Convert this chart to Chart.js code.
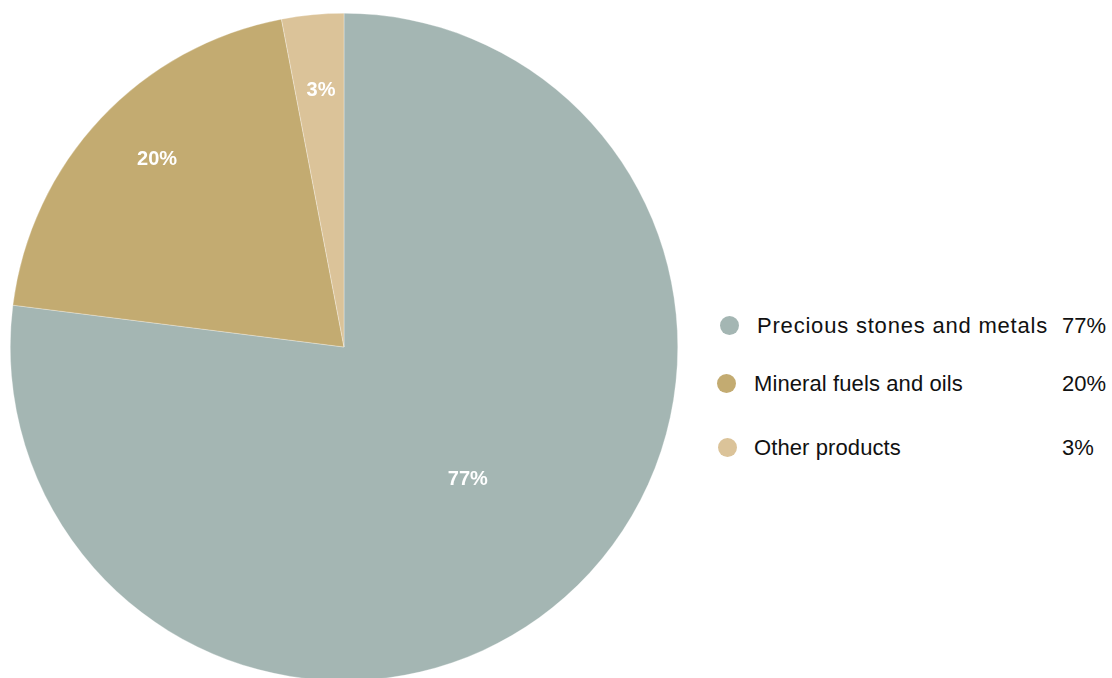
<!DOCTYPE html>
<html>
<head>
<meta charset="utf-8">
<script src="https://cdn.jsdelivr.net/npm/chart.js@4.4.1/dist/chart.umd.min.js"></script>
<style>
  html, body { margin: 0; padding: 0; background: #fff; overflow: hidden; }
  body { width: 1112px; height: 678px; position: relative; font-family: "Liberation Sans", Arial, Helvetica, sans-serif; }
  #pieWrap { position: absolute; left: 10px; top: 13px; width: 668px; height: 668px; }
  #legend { position: absolute; left: 716px; top: 0; width: 396px; }
  .row { position: absolute; left: 0; height: 24px; width: 396px; color: #111; font-size: 22px; line-height: 24px; }
  .dot { position: absolute; width: 19px; height: 19px; border-radius: 50%; top: 2px; }
  .name { position: absolute; white-space: nowrap; }
  .val { position: absolute; left: 346px; white-space: nowrap; }
</style>
</head>
<body>
<div id="pieWrap"><canvas id="pie"></canvas></div>
<div id="legend"></div>
<script>
const labels = ['Precious stones and metals', 'Mineral fuels and oils', 'Other products'];
const shares = [77, 20, 3];
const colors = ['#a4b6b3', '#c3ab71', '#dbc399'];

// where each slice label sits: fraction of radius, and a small turn (degrees) off the slice middle
const labelRadius = [0.542, 0.796, 0.776];
const labelTurn = [-1.8, 2.1, 0.3];

const sliceLabels = {
    id: 'sliceLabels',
    afterDatasetsDraw(chart) {
        const ctx = chart.ctx;
        const arcs = chart.getDatasetMeta(0).data;
        ctx.save();
        ctx.fillStyle = '#fff';
        ctx.font = 'bold 20px "Liberation Sans", Arial, sans-serif';
        ctx.textAlign = 'center';
        ctx.textBaseline = 'middle';
        arcs.forEach((arc, i) => {
            const p = arc.getProps(['x', 'y', 'startAngle', 'endAngle', 'outerRadius'], true);
            const mid = (p.startAngle + p.endAngle) / 2 + labelTurn[i] * Math.PI / 180;
            const r = p.outerRadius * labelRadius[i];
            ctx.fillText(shares[i] + '%', p.x + Math.cos(mid) * r, p.y + Math.sin(mid) * r + 1);
        });
        ctx.restore();
    }
};

new Chart(document.getElementById('pie'), {
    type: 'pie',
    data: {
        labels: labels,
        datasets: [{
            data: shares,
            backgroundColor: colors,
            borderColor: 'rgba(255,255,255,0.6)',
            borderWidth: 0.5
        }]
    },
    options: {
        responsive: true,
        maintainAspectRatio: false,
        animation: false,
        layout: { padding: 0 },
        plugins: {
            legend: { display: false },
            tooltip: { enabled: false }
        }
    },
    plugins: [sliceLabels]
});

// legend on the right side
const legend = document.getElementById('legend');
const rowTops = [314, 372, 436];
const dotLeft = [4, 1, 2];
const nameLeft = [41, 38, 38];
const nameSpacing = [0.8, 0.1, 0.1];
labels.forEach((name, i) => {
    const row = document.createElement('div');
    row.className = 'row';
    row.style.top = rowTops[i] + 'px';
    row.innerHTML = `
        <span class="dot" style="left:${dotLeft[i]}px;background:${colors[i]}"></span>
        <span class="name" style="left:${nameLeft[i]}px;letter-spacing:${nameSpacing[i]}px">${name}</span>
        <span class="val">${shares[i]}%</span>
    `;
    legend.appendChild(row);
});
</script>
</body>
</html>
